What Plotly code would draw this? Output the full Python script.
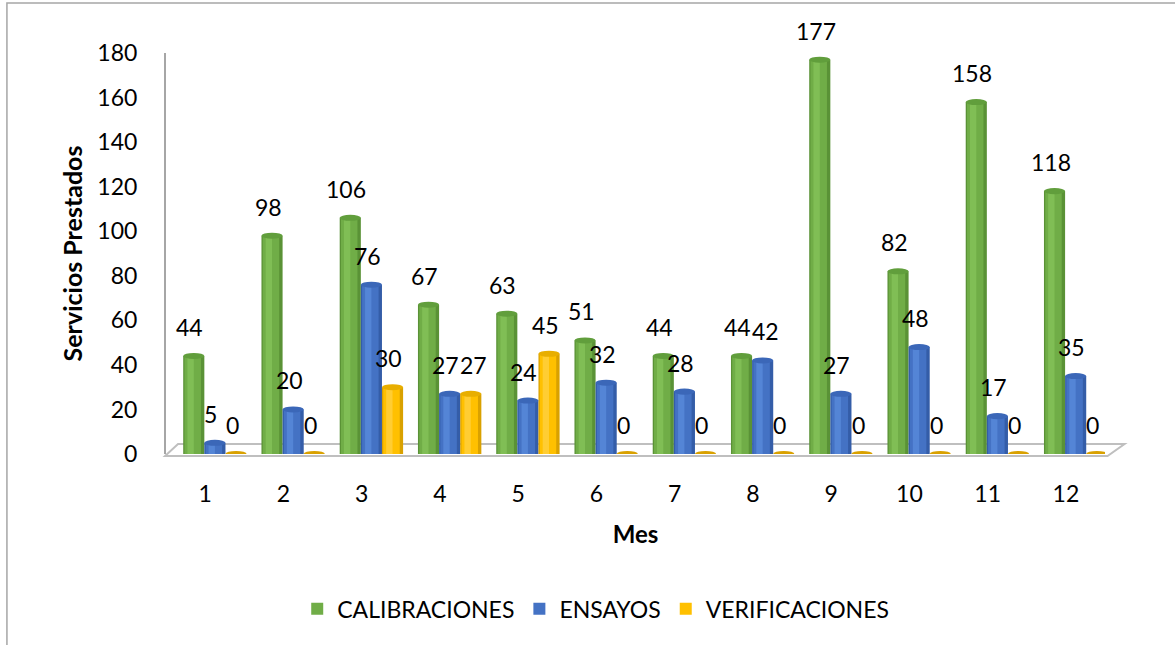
import plotly.graph_objects as go

# Monthly services delivered, by type
meses = [1, 2, 3, 4, 5, 6, 7, 8, 9, 10, 11, 12]
calibraciones = [44, 98, 106, 67, 63, 51, 44, 44, 177, 82, 158, 118]
ensayos = [5, 20, 76, 27, 24, 32, 28, 42, 27, 48, 17, 35]
verificaciones = [0, 0, 30, 27, 45, 0, 0, 0, 0, 0, 0, 0]

FONT = "Lato, 'Open Sans', sans-serif"
BAR_W = 0.27
CAP_H = 1.35  # half-height of the cylinder top, in y units

series = [
    # name, values, offset, (edge, body, highlight, cap)
    ("CALIBRACIONES", calibraciones, -0.28, ("#5A9236", "#70AD47", "#80BE55", "#619E3C")),
    ("ENSAYOS", ensayos, -0.01, ("#345DA8", "#4472C4", "#5485D6", "#3B67B8")),
    ("VERIFICACIONES", verificaciones, 0.26, ("#D9A100", "#FFC000", "#FFCD33", "#E8AE00")),
]

fig = go.Figure()
shapes = []
annotations = []
prev_vals = None

for name, vals, off, (edge, body, light, cap) in series:
    # cylinder body: darker edge, main colour, light highlight band
    fig.add_bar(x=meses, y=vals, width=BAR_W, offset=off, marker_color=edge,
                marker_line_width=0, showlegend=False, hoverinfo="skip")
    fig.add_bar(x=meses, y=vals, width=BAR_W * 0.78, offset=off + BAR_W * 0.06,
                marker_color=body, marker_line_width=0, name=name)
    fig.add_bar(x=meses, y=vals, width=BAR_W * 0.3, offset=off + BAR_W * 0.2,
                marker_color=light, marker_line_width=0, showlegend=False,
                hoverinfo="skip")
    for i, (m, v) in enumerate(zip(meses, vals)):
        cx0 = m + off
        cx1 = m + off + BAR_W
        shapes.append(dict(type="circle", xref="x", yref="y",
                           x0=cx0, x1=cx1, y0=v - CAP_H, y1=v + CAP_H,
                           fillcolor=cap if v > 0 else edge,
                           line=dict(width=0), layer="above"))
        # nudge a label right when it sits level with its left neighbour
        shift = -4
        if prev_vals is not None and v > 0 and abs(v - prev_vals[i]) < 6:
            shift = 3
        annotations.append(dict(x=m + off + BAR_W / 2, y=v, text=str(v),
                                showarrow=False, xshift=shift, yshift=29,
                                yanchor="middle",
                                font=dict(family=FONT, size=23, color="#000000")))
    prev_vals = vals

# 3D floor under the columns
shapes.insert(0, dict(type="path", xref="paper", yref="paper",
                      path="M -0.001,-0.005 L 1.0027,-0.005 L 1.0208,0.0249 L 0.0128,0.0249 Z",
                      fillcolor="rgba(255,255,255,0)",
                      line=dict(color="#BFBFBF", width=2), layer="below"))
# chart frame (left and top edges)
shapes.append(dict(type="path", xref="paper", yref="paper",
                   path="M -0.1694,-0.6 L -0.1694,1.1247 L 1.3,1.1247",
                   line=dict(color="#A6A6A6", width=1.5), layer="above"))

fig.update_layout(
    width=1175, height=645,
    margin=dict(l=166, r=70, t=53, b=191),
    paper_bgcolor="white", plot_bgcolor="white",
    barmode="overlay",
    font=dict(family=FONT, size=22, color="#000000"),
    shapes=shapes,
    annotations=annotations,
    legend=dict(orientation="h", xref="container", yref="container",
                x=0.507, xanchor="center", y=0.056, yanchor="middle",
                font=dict(family=FONT, size=23, color="#000000"),
                traceorder="normal", itemclick=False),
    xaxis=dict(range=[0.5, 12.5], tickmode="array", tickvals=meses,
               ticktext=[str(m) for m in meses], showgrid=False, zeroline=False,
               showline=False, ticks="outside", ticklen=19,
               tickcolor="rgba(0,0,0,0)",
               tickfont=dict(family=FONT, size=23),
               title=dict(text="<b>Mes</b>", standoff=20,
                          font=dict(family=FONT, size=24))),
    yaxis=dict(range=[0, 180], dtick=20, showgrid=False, zeroline=False,
               showline=True, linecolor="#A6A6A6", linewidth=2,
               ticks="outside", ticklen=22, tickcolor="rgba(0,0,0,0)",
               tickfont=dict(family=FONT, size=23),
               title=dict(text="<b>Servicios Prestados</b>", standoff=8,
                          font=dict(family=FONT, size=25))),
)

fig.write_html("out.html")
